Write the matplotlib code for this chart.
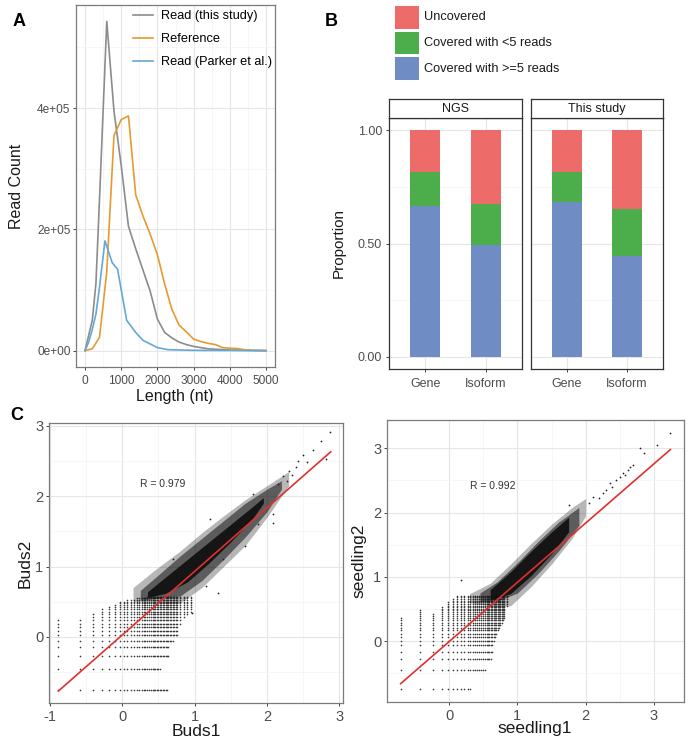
import numpy as np
import matplotlib.pyplot as plt
from matplotlib.patches import Rectangle

plt.rcParams['font.family'] = ['Liberation Sans', 'DejaVu Sans']
plt.rcParams['axes.unicode_minus'] = False

# ---------------- data ----------------
# panel A: length distributions
this_len = [0, 200, 300, 400, 600, 800, 1000, 1200, 1400, 1600, 1800, 2000, 2200, 2400, 2600, 2800, 3000, 3400, 4000, 5000]
this_cnt = [0, 50000, 110000, 250000, 543000, 395000, 305000, 205000, 168000, 133000, 98000, 52000, 30000, 21000, 14000, 10000, 7000, 3000, 1000, 0]
ref_len = [0, 200, 400, 600, 800, 1000, 1200, 1400, 1600, 1800, 2000, 2200, 2400, 2600, 2800, 3000, 3200, 3400, 3600, 3800, 4000, 4200, 4400, 4600, 5000]
ref_cnt = [0, 3000, 22000, 130000, 355000, 381000, 387000, 257000, 222000, 192000, 158000, 110000, 68000, 42000, 31000, 19000, 15000, 12000, 10000, 5000, 4000, 3500, 1500, 500, 0]
parker_len = [0, 100, 200, 300, 400, 550, 750, 900, 1150, 1400, 1600, 2000, 2300, 3000, 5000]
parker_cnt = [0, 14000, 35000, 60000, 105000, 181000, 145000, 134000, 50000, 30000, 17000, 5000, 1500, 500, 0]

# panel B: coverage proportions
facets = ['NGS', 'This study']
categories = ['Gene', 'Isoform']
ngs_ge5 = [0.666, 0.493]
ngs_lt5 = [0.150, 0.180]
ngs_unc = [0.184, 0.327]
ts_ge5 = [0.682, 0.447]
ts_lt5 = [0.135, 0.205]
ts_unc = [0.183, 0.348]
cov_labels = ['Uncovered', 'Covered with <5 reads', 'Covered with >=5 reads']
cov_colors = ['#ED6B69', '#4BAE4A', '#6F8CC4']

# panel C left (Buds): discrete low-count levels, envelopes, dense cloud, sparse tail
buds_xlev = [-0.88, -0.58, -0.40, -0.28, -0.18, -0.10, -0.03, 0.02, 0.07, 0.12, 0.16, 0.20, 0.23, 0.27,
             0.30, 0.32, 0.35, 0.37, 0.40, 0.42, 0.44, 0.46, 0.48, 0.50, 0.52, 0.54, 0.56, 0.58, 0.60,
             0.62, 0.64, 0.66, 0.68, 0.70, 0.72, 0.74, 0.76, 0.80, 0.85, 0.90, 0.95]
buds_ylev = [-0.75, -0.46, -0.27, -0.15, -0.06, 0.02, 0.08, 0.14, 0.19, 0.24, 0.28, 0.32, 0.36,
             0.39, 0.42, 0.45, 0.48, 0.50, 0.53, 0.55, 0.57, 0.60]
buds_top_x = [-0.88, -0.58, -0.41, -0.28, -0.17, -0.10, -0.03, 0.10, 0.40, 1.00]
buds_top_y = [0.25, 0.25, 0.35, 0.40, 0.43, 0.47, 0.50, 0.54, 0.58, 0.60]
buds_right_y = [-0.75, -0.46, -0.27, -0.13, 0.02, 0.24, 0.35, 0.60]
buds_right_x = [0.62, 0.52, 0.65, 0.65, 0.77, 0.82, 0.95, 0.98]
buds_outer_x = [0.15, 0.45, 0.80, 1.10, 1.40, 1.70, 2.00, 2.30]
buds_outer_hi = [0.70, 0.95, 1.22, 1.48, 1.72, 1.95, 2.15, 2.35]
buds_outer_lo = [0.50, 0.50, 0.48, 0.70, 1.00, 1.30, 1.70, 2.15]
buds_mid_x = [0.25, 0.50, 0.80, 1.10, 1.40, 1.70, 2.00, 2.20]
buds_mid_hi = [0.66, 0.88, 1.15, 1.40, 1.65, 1.90, 2.10, 2.22]
buds_mid_lo = [0.52, 0.55, 0.58, 0.80, 1.10, 1.42, 1.78, 2.10]
buds_core_x = [0.35, 0.60, 0.90, 1.20, 1.50, 1.80, 1.95]
buds_core_hi = [0.64, 0.85, 1.10, 1.35, 1.60, 1.85, 1.98]
buds_core_lo = [0.56, 0.62, 0.78, 1.05, 1.35, 1.68, 1.90]
buds_tail_x = [0.97, 1.32, 1.16, 0.70, 1.39, 1.21, 1.69, 1.88, 2.08, 1.81, 2.08, 2.22, 2.31, 2.43, 2.50,
               2.64, 2.75, 2.82, 2.87, 2.35, 2.28, 2.15, 2.55, 2.40]
buds_tail_y = [0.34, 0.63, 0.72, 1.10, 1.10, 1.67, 1.29, 1.60, 1.62, 2.03, 1.74, 2.29, 2.36, 2.50, 2.58,
               2.66, 2.79, 2.53, 2.91, 2.30, 2.22, 2.18, 2.48, 2.42]
buds_fit_x = [-0.88, 2.88]
buds_fit_y = [-0.77, 2.63]

# panel C right (seedling)
seed_xlev = [-0.71, -0.43, -0.24, -0.11, -0.02, 0.05, 0.12, 0.17, 0.22, 0.27, 0.31, 0.35, 0.38, 0.41,
             0.44, 0.47, 0.50, 0.52, 0.55, 0.57, 0.59, 0.61, 0.63, 0.65, 0.67, 0.69, 0.71, 0.73, 0.75,
             0.77, 0.79, 0.81, 0.85]
seed_ylev = [-0.74, -0.45, -0.28, -0.16, -0.06, 0.00, 0.07, 0.12, 0.17, 0.21, 0.25, 0.29, 0.33, 0.36,
             0.39, 0.42, 0.45, 0.48, 0.50, 0.53, 0.55, 0.58, 0.61, 0.63, 0.66, 0.68, 0.70]
seed_top_x = [-0.71, -0.43, -0.24, -0.11, -0.02, 0.05, 0.12, 0.20, 0.50, 0.90]
seed_top_y = [0.36, 0.48, 0.44, 0.53, 0.61, 0.66, 0.70, 0.70, 0.70, 0.70]
seed_right_y = [-0.74, -0.45, -0.28, 0.00, 0.20, 0.35, 0.55, 0.76]
seed_right_x = [0.33, 0.52, 0.62, 0.65, 0.74, 0.82, 0.85, 0.85]
seed_outer_x = [0.30, 0.60, 0.90, 1.20, 1.50, 1.80, 2.00]
seed_outer_hi = [0.74, 0.90, 1.20, 1.52, 1.82, 2.08, 2.22]
seed_outer_lo = [0.60, 0.55, 0.55, 0.85, 1.20, 1.60, 1.95]
seed_mid_x = [0.45, 0.70, 1.00, 1.30, 1.60, 1.90]
seed_mid_hi = [0.75, 0.92, 1.22, 1.55, 1.85, 2.08]
seed_mid_lo = [0.62, 0.62, 0.75, 1.05, 1.40, 1.80]
seed_core_x = [0.60, 0.90, 1.20, 1.50, 1.75]
seed_core_hi = [0.80, 1.08, 1.40, 1.70, 1.93]
seed_core_lo = [0.64, 0.74, 1.02, 1.36, 1.70]
seed_tail_x = [0.18, 1.76, 2.11, 2.20, 2.36, 2.30, 2.45, 2.55, 2.62, 2.65, 2.70, 2.38, 2.50, 2.80, 2.86,
               3.04, 3.24, 2.05, 2.25, 2.58]
seed_tail_y = [0.95, 2.12, 2.25, 2.22, 2.46, 2.35, 2.50, 2.61, 2.66, 2.71, 2.74, 2.40, 2.55, 3.00, 2.92,
               3.05, 3.24, 2.15, 2.30, 2.58]
seed_fit_x = [-0.71, 3.24]
seed_fit_y = [-0.66, 2.98]

# ---------------- figure ----------------
W, H = 693, 744
fig = plt.figure(figsize=(W / 100, H / 100), dpi=100)


def box(x0, y0, x1, y1):
    return [x0 / W, 1 - y1 / H, (x1 - x0) / W, (y1 - y0) / H]


def ftext(x, y, s, **kw):
    fig.text(x / W, 1 - y / H, s, ha='center', va='center', **kw)


def style(ax, frame='#7a7a7a', size=8.6):
    for s in ax.spines.values():
        s.set_color(frame)
        s.set_linewidth(0.9)
    ax.tick_params(which='major', color='#444444', labelcolor='#4d4d4d', labelsize=size,
                   length=2.5, width=0.7, pad=1.5)
    ax.tick_params(which='minor', length=0)
    ax.grid(True, which='major', color='#e6e6e6', lw=0.8)
    ax.grid(True, which='minor', color='#f3f3f3', lw=0.5)
    ax.set_axisbelow(True)


# ---- A ----
axA = fig.add_axes(box(76, 5, 275, 367))
axA.plot(this_len, this_cnt, color='#8c8c8c', lw=1.2, label='Read (this study)')
axA.plot(ref_len, ref_cnt, color='#E69A32', lw=1.2, label='Reference')
axA.plot(parker_len, parker_cnt, color='#62A8D8', lw=1.2, label='Read (Parker et al.)')
axA.set_xlim(-250, 5250)
axA.set_ylim(-27000, 570000)
axA.set_xticks([0, 1000, 2000, 3000, 4000, 5000])
axA.set_xticks([500, 1500, 2500, 3500, 4500], minor=True)
axA.set_yticks([0, 200000, 400000])
axA.set_yticklabels(['0e+00', '2e+05', '4e+05'])
axA.set_yticks([100000, 300000, 500000], minor=True)
style(axA)
axA.tick_params(axis='x', pad=3)
axA.legend(loc='upper left', bbox_to_anchor=(0.286, 0.985), frameon=False, fontsize=9.2,
           handlelength=1.6, handletextpad=0.6, labelspacing=0.85, borderpad=0, borderaxespad=0)
ftext(17, 186, 'Read Count', rotation=90, fontsize=11.5, color='#1a1a1a')
ftext(175, 397, 'Length (nt)', fontsize=11.5, color='#1a1a1a')

# ---- B ----
facet_data = [(ngs_ge5, ngs_lt5, ngs_unc), (ts_ge5, ts_lt5, ts_unc)]
xpos = np.arange(1, len(categories) + 1)
for i, (x0, x1) in enumerate([(389, 522), (531, 663)]):
    ax = fig.add_axes(box(x0, 118, x1, 369))
    ge5, lt5, unc = facet_data[i]
    ax.bar(xpos, ge5, width=0.5, color=cov_colors[2], zorder=2)
    ax.bar(xpos, lt5, width=0.5, bottom=ge5, color=cov_colors[1], zorder=2)
    ax.bar(xpos, unc, width=0.5, bottom=np.add(ge5, lt5), color=cov_colors[0], zorder=2)
    ax.set_xlim(0.4, 2.6)
    ax.set_ylim(-0.053, 1.053)
    ax.set_xticks(xpos)
    ax.set_xticklabels(categories)
    ax.set_yticks([0, 0.5, 1.0])
    ax.set_yticklabels(['0.00', '0.50', '1.00'])
    ax.set_yticks([0.25, 0.75], minor=True)
    style(ax, frame='#333333', size=9)
    ax.tick_params(axis='x', pad=4)
    ax.tick_params(axis='y', pad=2.5)
    if i == 1:
        ax.tick_params(axis='y', left=False, labelleft=False)
    strip = fig.add_axes(box(x0, 99, x1, 118))
    strip.set_xticks([])
    strip.set_yticks([])
    for s in strip.spines.values():
        s.set_color('#333333')
        s.set_linewidth(0.9)
    strip.text(0.5, 0.45, facets[i], ha='center', va='center', fontsize=9, color='#1a1a1a',
               transform=strip.transAxes)
ftext(339, 243, 'Proportion', rotation=90, fontsize=11, color='#1a1a1a')

# legend for B
for k, (yt, yb) in enumerate([(6, 29), (32, 54), (57, 80)]):
    fig.add_artist(Rectangle((395 / W, 1 - yb / H), 24 / W, (yb - yt) / H,
                             transform=fig.transFigure, color=cov_colors[k], lw=0))
    fig.text(424 / W, 1 - (yt + yb) / 2 / H, cov_labels[k], ha='left', va='center',
             fontsize=9.2, color='#1a1a1a')


# ---- C ----
def scatter_panel(rect, xlev, ylev, top_x, top_y, right_y, right_x, layers,
                  tx, ty, fx, fy, xlim, ylim, xticks, rtxt, rpos):
    ax = fig.add_axes(rect)
    gx, gy = np.meshgrid(xlev, ylev)
    gx, gy = gx.ravel(), gy.ravel()
    keep = (gy <= np.interp(gx, top_x, top_y)) & (gx <= np.interp(gy, right_y, right_x))
    ax.scatter(gx[keep], gy[keep], s=1.4, color='#3a3a3a', lw=0, zorder=2)
    for (lx, llo, lhi), a in zip(layers, [0.3, 0.55, 0.95]):
        ax.fill_between(lx, llo, lhi, color='#111111', alpha=a, lw=0, zorder=2)
    ax.scatter(tx, ty, s=1.6, color='#222222', lw=0, zorder=2)
    ax.plot(fx, fy, color='#E0302E', lw=1.2, zorder=3)
    ax.set_xlim(*xlim)
    ax.set_ylim(*ylim)
    ax.set_xticks(xticks)
    ax.set_xticks(np.array(xticks[:-1]) + 0.5, minor=True)
    ax.set_yticks([0, 1, 2, 3])
    ax.set_yticks([-0.5, 0.5, 1.5, 2.5], minor=True)
    style(ax, size=10.5)
    ax.tick_params(axis='x', pad=2.5)
    ax.text(rpos[0], rpos[1], rtxt, fontsize=7.5, color='#333333', ha='center', va='center')
    return ax


scatter_panel(box(49, 423, 343, 703), buds_xlev, buds_ylev, buds_top_x, buds_top_y,
              buds_right_y, buds_right_x,
              [(buds_outer_x, buds_outer_lo, buds_outer_hi), (buds_mid_x, buds_mid_lo, buds_mid_hi),
               (buds_core_x, buds_core_lo, buds_core_hi)],
              buds_tail_x, buds_tail_y, buds_fit_x, buds_fit_y, (-1.01, 3.05), (-0.94, 3.04),
              [-1, 0, 1, 2, 3], 'R = 0.979', (0.56, 2.17))
ftext(25, 563, 'Buds2', rotation=90, fontsize=12.5, color='#1a1a1a')
ftext(196, 731, 'Buds1', fontsize=12.5, color='#1a1a1a')

scatter_panel(box(387, 420, 684, 702), seed_xlev, seed_ylev, seed_top_x, seed_top_y,
              seed_right_y, seed_right_x,
              [(seed_outer_x, seed_outer_lo, seed_outer_hi), (seed_mid_x, seed_mid_lo, seed_mid_hi),
               (seed_core_x, seed_core_lo, seed_core_hi)],
              seed_tail_x, seed_tail_y, seed_fit_x, seed_fit_y, (-0.91, 3.44), (-0.945, 3.44),
              [0, 1, 2, 3], 'R = 0.992', (0.64, 2.42))
ftext(359, 561, 'seedling2', rotation=90, fontsize=12.5, color='#1a1a1a')
ftext(535, 729, 'seedling1', fontsize=12.5, color='#1a1a1a')

# panel letters
ftext(19, 21, 'A', fontsize=13, fontweight='bold')
ftext(331, 21, 'B', fontsize=13, fontweight='bold')
ftext(17, 416, 'C', fontsize=13, fontweight='bold')

fig.savefig('out.png', dpi=100)
